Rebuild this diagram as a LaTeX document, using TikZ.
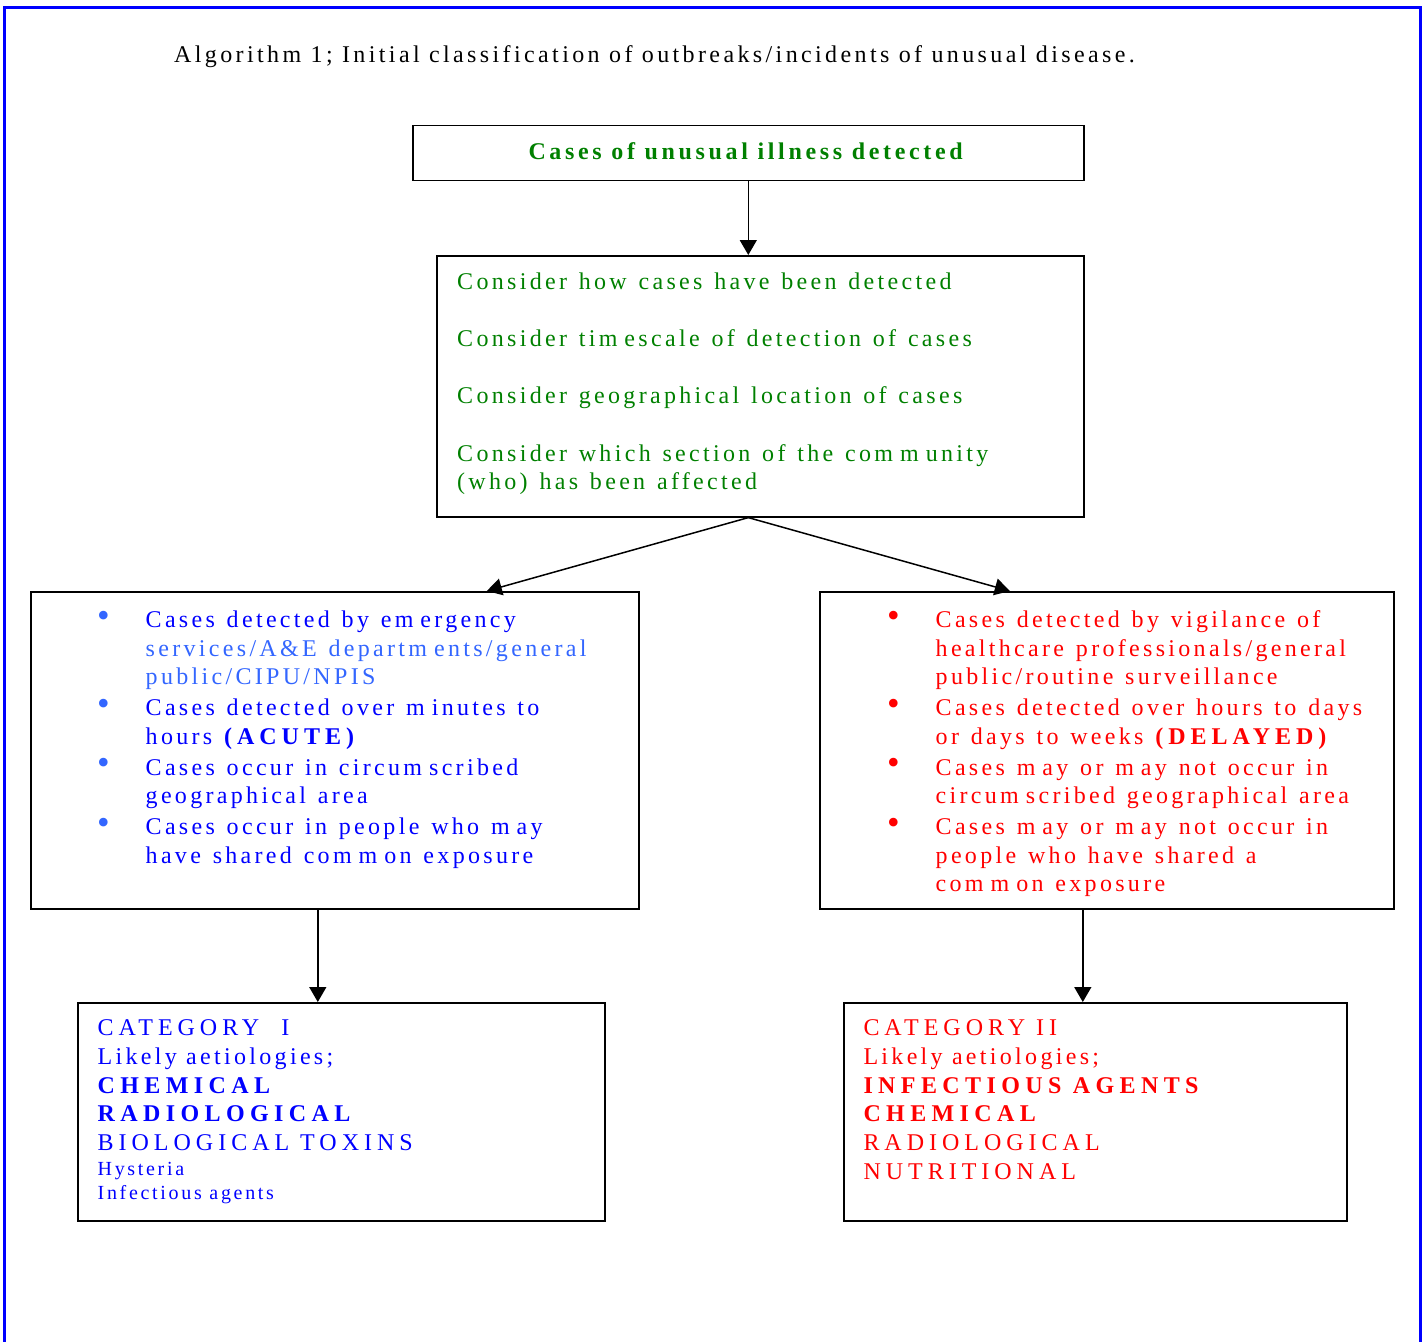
\documentclass[tikz,border=0pt]{standalone}
\usepackage{fontspec}
\usepackage{graphicx}
\setmainfont{Liberation Serif}
% tracked serif faces: body text, capitals, title, small notes
\newfontfamily\bodyfont[LetterSpace=13.8,Ligatures=NoCommon]{Liberation Serif}
\newfontfamily\boldbodyfont[LetterSpace=15.2,Ligatures=NoCommon]{Liberation Serif}
\newfontfamily\capsfont[LetterSpace=20.8,Ligatures=NoCommon]{Liberation Serif}
\newfontfamily\boldcapsfont[LetterSpace=22.5,Ligatures=NoCommon]{Liberation Serif}
\newfontfamily\titlefont[LetterSpace=14.1,Ligatures=NoCommon]{Liberation Serif}
\newfontfamily\notefont[LetterSpace=13.4,Ligatures=NoCommon]{Liberation Serif}
\usetikzlibrary{arrows.meta,calc}

% the typeface used here leaves a little extra room after a lower-case m
\newXeTeXintercharclass\mwideclass
\XeTeXcharclass`\m=\mwideclass
\XeTeXinterchartoks\mwideclass 0={\kern7pt}
\XeTeXinterchartoks\mwideclass\mwideclass={\kern7pt}

\definecolor{flowgreen}{RGB}{0,128,0}
\definecolor{flowblue}{RGB}{0,0,255}
\definecolor{lightblue}{RGB}{51,102,255}
\definecolor{flowred}{RGB}{255,0,0}

\newcommand\bul{\hspace*{-2.5pt}\raisebox{0.5pt}{\scalebox{1.5}{\textbullet}}}
% interword spaces inside aligned nodes: natural, or slightly widened
\newcommand\natspaces{\spaceskip=0pt\xspaceskip=0pt\relax}
\newcommand\widespaces{\spaceskip=\dimexpr\fontdimen2\font+2.5pt\relax\xspaceskip=\spaceskip}

\tikzset{
  box/.style={draw=black, line width=1.6pt, inner sep=0pt, anchor=north west},
  txt/.style={anchor=base west, inner sep=0pt, align=left, text width=640pt},
  bodytxt/.style={txt, font=\fontsize{24}{28.6}\selectfont\bodyfont},
  cattxt/.style={txt, font=\fontsize{24}{28.75}\selectfont\capsfont},
  arr/.style={draw=black, line width=1.5pt, -{Triangle[length=15pt,width=17pt]}},
}

\begin{document}
\XeTeXinterchartokenstate=1
\begin{tikzpicture}[x=1pt,y=-1pt]
\useasboundingbox (0,0) rectangle (1428,1342);

% page frame
\draw[flowblue, line width=3pt] (4.5,1342) -- (4.5,7.5) -- (1420.5,7.5) -- (1420.5,1342);

% heading
\node[anchor=base west, inner sep=0pt, font=\fontsize{24}{28}\selectfont\titlefont] (title) at (174,62.5)
  {Algorithm 1; Initial classification of outbreaks/incidents of unusual disease.};

% boxes
\node[box, minimum width=671pt, minimum height=55pt]  (start)  at (412,124.5) {};
\node[box, minimum width=647pt, minimum height=261pt] (consider) at (436,255) {};
\node[box, minimum width=608pt, minimum height=317pt] (acute)  at (30,591) {};
\node[box, minimum width=574pt, minimum height=317pt] (delayed) at (819,591) {};
\node[box, minimum width=527pt, minimum height=218pt] (catone) at (77,1002) {};
\node[box, minimum width=503pt, minimum height=218pt] (cattwo) at (843,1002) {};

% box texts
\node[anchor=base, inner sep=0pt, text=flowgreen, font=\fontsize{24}{28}\selectfont\boldbodyfont\bfseries]
  (starttext) at (745.6,159.3) {Cases of unusual illness detected};

\node[bodytxt, text=flowgreen] (considertext) at (457,289.3)
  {\widespaces
   Consider how cases have been detected\\[28.65pt]
   Consider timescale of detection of cases\\[28.65pt]
   Consider geographical location of cases\\[28.65pt]
   Consider which section of the community\\
   (who) has been affected};

\node[bodytxt, text=flowblue] (acutetext) at (99.5,627.7)
  {\widespaces
   \makebox[46pt][l]{\color{lightblue}\bul}Cases detected by emergency\\
   \hspace*{46pt}{\color{lightblue}services/A\&E departments/general}\\
   \hspace*{46pt}{\color{lightblue}public/CIPU/NPIS}\\[2.2pt]
   \makebox[46pt][l]{\color{lightblue}\bul}Cases detected over minutes to\\
   \hspace*{46pt}hours {\capsfont\bfseries (ACUTE)}\\[2.2pt]
   \makebox[46pt][l]{\color{lightblue}\bul}Cases occur in circumscribed\\
   \hspace*{46pt}geographical area\\[2.2pt]
   \makebox[46pt][l]{\color{lightblue}\bul}Cases occur in people who may\\
   \hspace*{46pt}have shared common exposure};

\node[bodytxt, text=flowred] (delayedtext) at (889.5,627.7)
  {\widespaces
   \makebox[46pt][l]{\bul}Cases detected by vigilance of\\
   \hspace*{46pt}healthcare professionals/general\\
   \hspace*{46pt}public/routine surveillance\\[2.2pt]
   \makebox[46pt][l]{\bul}Cases detected over hours to days\\
   \hspace*{46pt}or days to weeks {\capsfont\bfseries (DELAYED)}\\[2.2pt]
   \makebox[46pt][l]{\bul}Cases may or may not occur in\\
   \hspace*{46pt}circumscribed geographical area\\[2.2pt]
   \makebox[46pt][l]{\bul}Cases may or may not occur in\\
   \hspace*{46pt}people who have shared a\\
   \hspace*{46pt}common exposure};

\node[cattxt, text=flowblue] (catonetext) at (97.5,1035.7)
  {\natspaces
   CATEGORY\ \ I\\
   {\bodyfont Likely aetiologies;}\\
   {\boldcapsfont\bfseries CHEMICAL}\\
   {\boldcapsfont\bfseries RADIOLOGICAL}\\
   BIOLOGICAL TOXINS\\[-4.45pt]
   {\fontsize{20}{24}\selectfont\notefont Hysteria}\\[-4.45pt]
   {\fontsize{20}{24}\selectfont\notefont Infectious agents}};

\node[cattxt, text=flowred] (cattwotext) at (863.3,1035.7)
  {\natspaces
   CATEGORY II\\
   {\bodyfont Likely aetiologies;}\\
   {\boldcapsfont\bfseries INFECTIOUS AGENTS}\\
   {\boldcapsfont\bfseries CHEMICAL}\\
   RADIOLOGICAL\\[-0.25pt]
   NUTRITIONAL};

% connectors
\draw[arr] (start.south) -- (start.south |- consider.north);
\draw[arr] (start.south |- consider.south) -- ($(acute.north)+(152,0)$);
\draw[arr] (start.south |- consider.south) -- ($(delayed.north)+(-97,0)$);
\draw[arr] ($(acute.south)+(-17,0)$) -- ($(catone.north)+(-23.5,0)$);
\draw[arr] ($(delayed.south)+(-24,0)$) -- ($(cattwo.north)+(-12.5,0)$);
\end{tikzpicture}
\end{document}
